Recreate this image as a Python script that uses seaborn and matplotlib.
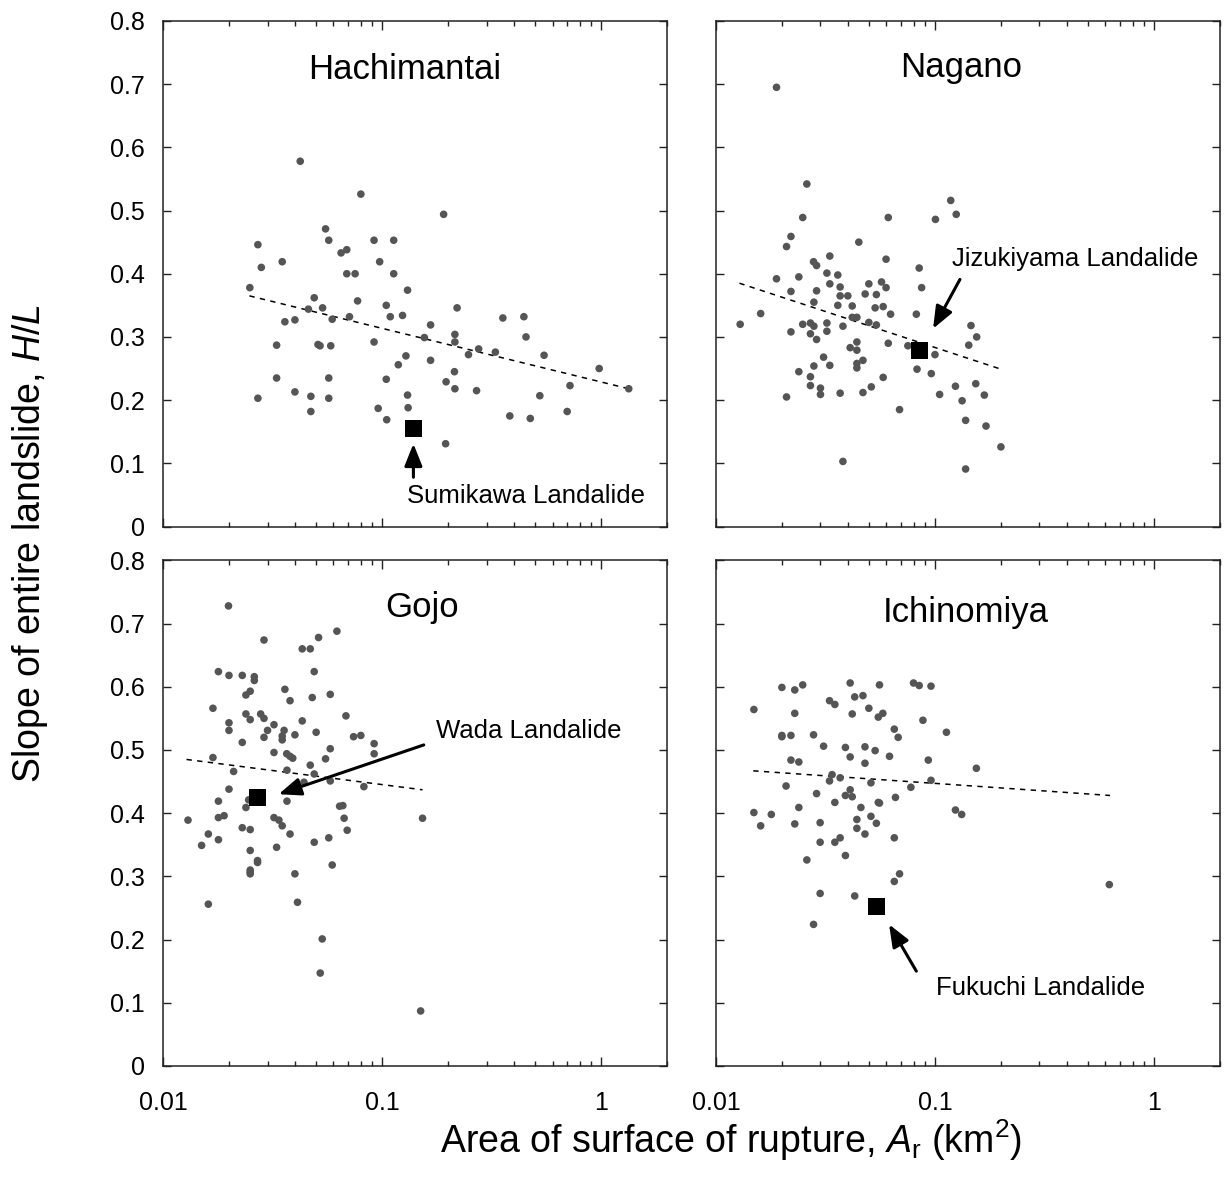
import matplotlib
matplotlib.use("Agg")
import matplotlib.pyplot as plt
import matplotlib.ticker as mticker
import pandas as pd
import seaborn as sns

# --- data (area km2, H/L) ---
regions = ["Hachimantai", "Nagano", "Gojo", "Ichinomiya"]

hachimantai_area = [
    0.0249, 0.0271, 0.0281, 0.0271, 0.035, 0.036, 0.033, 0.033, 0.040, 0.040,
    0.0423, 0.0461, 0.0473, 0.0473, 0.049, 0.051, 0.0521, 0.0535, 0.0552, 0.0571,
    0.0571, 0.0571, 0.0583, 0.0592, 0.065, 0.069, 0.069, 0.071, 0.0753, 0.0773,
    0.080, 0.0919, 0.0919, 0.096, 0.0975, 0.1045, 0.1045, 0.105, 0.109, 0.113,
    0.113, 0.1186, 0.124, 0.1285, 0.1307, 0.1307, 0.1315, 0.156, 0.1665, 0.1665,
    0.191, 0.195, 0.196, 0.214, 0.215, 0.215, 0.215, 0.22, 0.248, 0.270,
    0.276, 0.329, 0.356, 0.383, 0.444, 0.454, 0.475, 0.525, 0.549, 0.70,
    0.721, 0.98, 1.337]
hachimantai_hl = [
    0.378, 0.446, 0.410, 0.203, 0.419, 0.324, 0.287, 0.235, 0.327, 0.213,
    0.578, 0.344, 0.206, 0.182, 0.362, 0.288, 0.286, 0.346, 0.471, 0.453,
    0.235, 0.203, 0.286, 0.328, 0.433, 0.438, 0.400, 0.332, 0.400, 0.357,
    0.526, 0.453, 0.292, 0.187, 0.419, 0.350, 0.233, 0.169, 0.332, 0.453,
    0.400, 0.256, 0.334, 0.270, 0.374, 0.208, 0.188, 0.299, 0.319, 0.263,
    0.494, 0.131, 0.229, 0.245, 0.304, 0.292, 0.218, 0.346, 0.272, 0.215,
    0.281, 0.276, 0.330, 0.175, 0.332, 0.300, 0.171, 0.207, 0.271, 0.182,
    0.223, 0.250, 0.218]

nagano_area = [
    0.0129, 0.016, 0.0189, 0.0189, 0.021, 0.021, 0.022, 0.022, 0.022, 0.0239,
    0.0239, 0.0249, 0.0249, 0.026, 0.027, 0.027, 0.027, 0.027, 0.0279, 0.028,
    0.028, 0.028, 0.0288, 0.0288, 0.0288, 0.030, 0.030, 0.031, 0.0321, 0.0321,
    0.0321, 0.0331, 0.0331, 0.0331, 0.036, 0.036, 0.0369, 0.0369, 0.0369, 0.038,
    0.038, 0.040, 0.041, 0.0419, 0.0419, 0.044, 0.044, 0.044, 0.044, 0.044,
    0.0449, 0.0469, 0.0469, 0.048, 0.0499, 0.0499, 0.0512, 0.0533, 0.054, 0.054,
    0.057, 0.058, 0.058, 0.0598, 0.0598, 0.0612, 0.0612, 0.0627, 0.0689, 0.0752,
    0.0822, 0.0828, 0.0847, 0.0869, 0.0962, 0.1, 0.1005, 0.105, 0.118, 0.124,
    0.125, 0.133, 0.138, 0.138, 0.1426, 0.146, 0.1535, 0.155, 0.168, 0.171, 0.200]
nagano_hl = [
    0.320, 0.337, 0.695, 0.392, 0.443, 0.205, 0.459, 0.372, 0.308, 0.395,
    0.245, 0.489, 0.320, 0.542, 0.322, 0.305, 0.237, 0.223, 0.419, 0.355,
    0.317, 0.254, 0.413, 0.373, 0.296, 0.219, 0.209, 0.268, 0.401, 0.322,
    0.309, 0.428, 0.384, 0.255, 0.398, 0.350, 0.379, 0.365, 0.211, 0.317,
    0.103, 0.365, 0.283, 0.349, 0.331, 0.331, 0.292, 0.279, 0.258, 0.251,
    0.450, 0.263, 0.212, 0.368, 0.384, 0.323, 0.221, 0.346, 0.367, 0.319,
    0.387, 0.348, 0.236, 0.423, 0.378, 0.489, 0.290, 0.336, 0.185, 0.286,
    0.336, 0.249, 0.409, 0.378, 0.242, 0.272, 0.486, 0.209, 0.516, 0.222,
    0.494, 0.199, 0.168, 0.091, 0.287, 0.318, 0.226, 0.300, 0.208, 0.159, 0.126]

gojo_area = [
    0.0130, 0.015, 0.0161, 0.0161, 0.0169, 0.0169, 0.0179, 0.0179, 0.0179, 0.0179,
    0.019, 0.0199, 0.020, 0.020, 0.020, 0.020, 0.021, 0.023, 0.023, 0.023,
    0.0239, 0.0239, 0.0239, 0.0246, 0.025, 0.025, 0.025, 0.025, 0.025, 0.025,
    0.025, 0.0261, 0.0261, 0.027, 0.027, 0.0279, 0.0289, 0.0289, 0.0289, 0.030,
    0.0321, 0.0321, 0.0321, 0.033, 0.0338, 0.035, 0.035, 0.035, 0.0357, 0.036,
    0.0367, 0.0368, 0.0368, 0.038, 0.038, 0.038, 0.0391, 0.040, 0.040, 0.0411,
    0.0432, 0.0432, 0.044, 0.047, 0.047, 0.048, 0.049, 0.049, 0.049, 0.050,
    0.0513, 0.0522, 0.0533, 0.0552, 0.0571, 0.058, 0.058, 0.058, 0.0592, 0.0622,
    0.064, 0.0662, 0.0671, 0.0684, 0.0693, 0.0741, 0.080, 0.0826, 0.092, 0.092,
    0.150, 0.153]
gojo_hl = [
    0.389, 0.349, 0.367, 0.256, 0.566, 0.488, 0.624, 0.419, 0.393, 0.358,
    0.396, 0.728, 0.618, 0.543, 0.531, 0.438, 0.466, 0.618, 0.512, 0.377,
    0.587, 0.557, 0.409, 0.421, 0.593, 0.548, 0.374, 0.341, 0.310, 0.304,
    0.307, 0.616, 0.610, 0.325, 0.322, 0.557, 0.674, 0.550, 0.520, 0.531,
    0.540, 0.496, 0.393, 0.346, 0.389, 0.522, 0.516, 0.380, 0.531, 0.596,
    0.494, 0.468, 0.419, 0.578, 0.490, 0.367, 0.487, 0.524, 0.304, 0.259,
    0.660, 0.546, 0.449, 0.660, 0.476, 0.583, 0.624, 0.462, 0.354, 0.528,
    0.678, 0.147, 0.201, 0.486, 0.361, 0.588, 0.502, 0.451, 0.318, 0.688,
    0.411, 0.412, 0.392, 0.554, 0.373, 0.521, 0.523, 0.442, 0.510, 0.494,
    0.087, 0.392]

ichinomiya_area = [
    0.0149, 0.0149, 0.016, 0.0179, 0.020, 0.020, 0.020, 0.0209, 0.022, 0.022,
    0.0229, 0.0229, 0.0229, 0.0239, 0.0239, 0.0249, 0.026, 0.0279, 0.0279, 0.0288,
    0.0299, 0.0299, 0.0299, 0.031, 0.033, 0.033, 0.0339, 0.0349, 0.0349, 0.0349,
    0.0369, 0.0369, 0.039, 0.039, 0.039, 0.041, 0.041, 0.041, 0.0419, 0.0419,
    0.043, 0.043, 0.044, 0.044, 0.0459, 0.0469, 0.0479, 0.0479, 0.0479, 0.0499,
    0.051, 0.051, 0.0533, 0.054, 0.0551, 0.0551, 0.0558, 0.0558, 0.0578, 0.062,
    0.0652, 0.0652, 0.0652, 0.066, 0.0679, 0.0689, 0.0776, 0.0798, 0.0847, 0.0881,
    0.0932, 0.0959, 0.0959, 0.1128, 0.124, 0.1324, 0.1545, 0.625]
ichinomiya_hl = [
    0.564, 0.401, 0.380, 0.398, 0.599, 0.523, 0.521, 0.443, 0.523, 0.484,
    0.595, 0.558, 0.383, 0.481, 0.409, 0.603, 0.326, 0.524, 0.224, 0.431,
    0.385, 0.354, 0.273, 0.506, 0.578, 0.451, 0.461, 0.572, 0.417, 0.354,
    0.456, 0.361, 0.504, 0.428, 0.333, 0.606, 0.489, 0.437, 0.557, 0.426,
    0.584, 0.269, 0.390, 0.376, 0.409, 0.586, 0.505, 0.479, 0.367, 0.566,
    0.448, 0.395, 0.499, 0.384, 0.552, 0.417, 0.603, 0.416, 0.558, 0.490,
    0.533, 0.361, 0.292, 0.425, 0.520, 0.304, 0.441, 0.606, 0.602, 0.547,
    0.484, 0.601, 0.452, 0.528, 0.405, 0.398, 0.471, 0.287]

# dashed trend lines (end points)
trend_area = [[0.0248, 1.338], [0.0128, 0.196], [0.0128, 0.153], [0.0148, 0.63]]
trend_hl = [[0.365, 0.218], [0.385, 0.250], [0.485, 0.437], [0.467, 0.428]]

# named landslides
named = ["Sumikawa Landalide", "Jizukiyama Landalide", "Wada Landalide", "Fukuchi Landalide"]
named_area = [0.139, 0.0853, 0.027, 0.054]
named_hl = [0.155, 0.279, 0.425, 0.252]

# arrows: tail -> head, and label anchor (left, middle)
arrow_tail = [(0.139, 0.078), (0.130, 0.391), (0.155, 0.508), (0.0822, 0.150)]
arrow_head = [(0.139, 0.131), (0.098, 0.313), (0.0337, 0.430), (0.0617, 0.224)]
label_pos = [(0.130, 0.049), (0.120, 0.423), (0.176, 0.530), (0.1014, 0.124)]

title_pos = [(0.48, 0.903), (0.487, 0.907), (0.513, 0.907), (0.495, 0.897)]

all_area = [hachimantai_area, nagano_area, gojo_area, ichinomiya_area]
all_hl = [hachimantai_hl, nagano_hl, gojo_hl, ichinomiya_hl]

frames = []
for reg, a, h in zip(regions, all_area, all_hl):
    frames.append(pd.DataFrame({"region": reg, "area": a, "hl": h}))
df = pd.concat(frames, ignore_index=True)

sns.set_style("ticks", {"xtick.direction": "in", "ytick.direction": "in"})
plt.rcParams["font.family"] = ["Liberation Sans", "DejaVu Sans"]
plt.rcParams["mathtext.fontset"] = "custom"
plt.rcParams["mathtext.rm"] = "Liberation Sans"
plt.rcParams["mathtext.it"] = "Liberation Sans:italic"
plt.rcParams["text.color"] = "black"

fig, axes = plt.subplots(2, 2, figsize=(12.24, 11.84), dpi=100, sharex=True, sharey=True)
fig.subplots_adjust(left=0.1332, right=0.9967, bottom=0.0997, top=0.9823,
                    wspace=0.097, hspace=0.067)

for i, (ax, reg) in enumerate(zip(axes.flat, regions)):
    sub = df[df["region"] == reg]
    sns.scatterplot(data=sub, x="area", y="hl", ax=ax, color="#555555",
                    s=30, edgecolor="none", linewidth=0, zorder=3)
    sns.lineplot(x=trend_area[i], y=trend_hl[i], ax=ax, color="black",
                 linewidth=1.1, linestyle=(0, (3.5, 3.5)), estimator=None, zorder=2)
    sns.scatterplot(x=[named_area[i]], y=[named_hl[i]], ax=ax, marker="s",
                    color="black", s=150, edgecolor="none", zorder=4)
    ax.annotate("", xy=arrow_head[i], xytext=arrow_tail[i],
                arrowprops=dict(arrowstyle="-|>,head_length=0.45,head_width=0.18",
                                mutation_scale=30, lw=2.2, color="black",
                                shrinkA=0, shrinkB=0), zorder=5)
    ax.text(label_pos[i][0], label_pos[i][1], named[i], ha="left", va="center",
            fontsize=18.5, color="black")
    ax.text(title_pos[i][0], title_pos[i][1], reg, transform=ax.transAxes,
            ha="center", va="center", fontsize=25, color="black")

    ax.set_xscale("log")
    ax.set_xlim(0.01, 2.0)
    ax.set_ylim(0, 0.8)
    ax.set_xticks([0.01, 0.1, 1], ["0.01", "0.1", "1"])
    ax.xaxis.set_minor_locator(mticker.LogLocator(base=10, subs=range(2, 10)))
    ax.xaxis.set_minor_formatter(mticker.NullFormatter())
    ax.set_yticks([0, 0.1, 0.2, 0.3, 0.4, 0.5, 0.6, 0.7, 0.8])
    ax.yaxis.set_major_formatter(mticker.FuncFormatter(
        lambda v, _: "0" if abs(v) < 1e-9 else f"{v:.1f}"))
    ax.tick_params(axis="both", which="both", direction="in", top=True, right=True,
                   colors="#222222", labelcolor="black")
    ax.tick_params(axis="x", which="major", length=6.5, width=1, labelsize=18, pad=18)
    ax.tick_params(axis="x", which="minor", length=3.5, width=1)
    ax.tick_params(axis="y", which="major", length=5.5, width=1, labelsize=18, pad=13)
    ax.set_xlabel("")
    ax.set_ylabel("")
    for sp in ax.spines.values():
        sp.set_visible(True)
        sp.set_linewidth(1.1)
        sp.set_color("#222222")

fig.text(0.0245, 0.541, r"Slope of entire landslide, $\mathit{H/L}$",
         rotation=90, ha="center", va="center", fontsize=27, color="black")
fig.text(0.597, 0.037, r"Area of surface of rupture, $\mathit{A}_{\mathrm{r}}$ (km$^{2}$)",
         ha="center", va="center", fontsize=27, color="black")

fig.savefig("out.png", dpi=100)
